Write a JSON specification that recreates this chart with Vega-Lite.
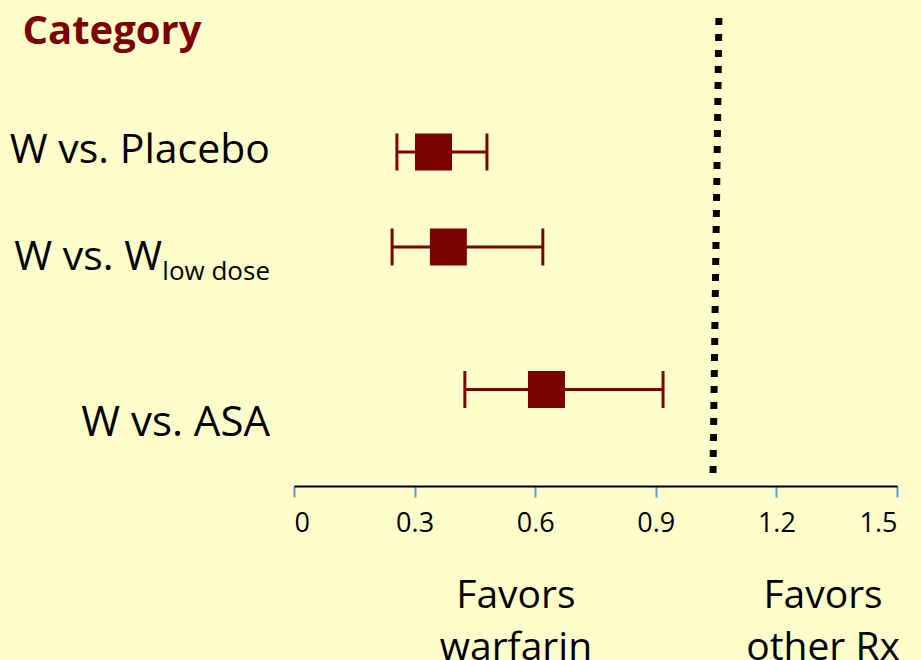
{
  "$schema": "https://vega.github.io/schema/vega-lite/v6.json",
  "width": 603,
  "height": 486,
  "autosize": "none",
  "padding": {"left": 294, "top": 0, "right": 24, "bottom": 174},
  "background": "#FFFFCC",
  "config": {"view": {"stroke": null}, "font": "Open Sans"},
  "datasets": {
    "trials": [
      {"comparison": "W vs. Placebo", "label": "W vs. Placebo", "sub": "", "row": 1, "hr": 0.347, "lo": 0.256, "hi": 0.48},
      {"comparison": "W vs. W low dose", "label": "W vs. W", "sub": "low dose", "row": 2, "hr": 0.384, "lo": 0.244, "hi": 0.619},
      {"comparison": "W vs. ASA", "label": "W vs. ASA", "sub": "", "row": 3.5, "hr": 0.628, "lo": 0.425, "hi": 0.918}
    ],
    "notes": [
      {"note": "Favors\nwarfarin", "pos": 0.552},
      {"note": "Favors\nother Rx", "pos": 1.316}
    ]
  },
  "layer": [
    {
      "data": {"name": "trials"},
      "mark": {"type": "rule", "color": "#7B0000", "strokeWidth": 3},
      "encoding": {
        "x": {
          "field": "lo", "type": "quantitative",
          "scale": {"domain": [0, 1.5], "nice": false, "zero": false},
          "axis": {
            "values": [0, 0.3, 0.6, 0.9, 1.2, 1.5], "format": "~g", "title": null, "grid": false,
            "domainColor": "#000000", "domainWidth": 2,
            "tickColor": "#5B9BD5", "tickWidth": 2, "tickSize": 11,
            "labelFont": "Open Sans", "labelFontSize": 27, "labelColor": "#000000", "labelPadding": 13
          }
        },
        "x2": {"field": "hi"},
        "y": {
          "field": "row", "type": "quantitative",
          "scale": {"domain": [-0.6, 4.516], "reverse": true, "nice": false, "zero": false},
          "axis": {
            "title": "Category", "domain": false, "ticks": false, "labels": false, "grid": false,
            "titleAngle": 0, "titleAlign": "left", "titleBaseline": "alphabetic",
            "titleX": -272, "titleY": 43,
            "titleFont": "Open Sans", "titleFontSize": 40, "titleFontWeight": "bold", "titleColor": "#7B0000"
          }
        }
      }
    },
    {
      "data": {"name": "trials"},
      "mark": {"type": "tick", "orient": "vertical", "color": "#7B0000", "size": 37, "thickness": 3, "opacity": 1},
      "encoding": {
        "x": {"field": "lo", "type": "quantitative"},
        "y": {"field": "row", "type": "quantitative"}
      }
    },
    {
      "data": {"name": "trials"},
      "mark": {"type": "tick", "orient": "vertical", "color": "#7B0000", "size": 37, "thickness": 3, "opacity": 1},
      "encoding": {
        "x": {"field": "hi", "type": "quantitative"},
        "y": {"field": "row", "type": "quantitative"}
      }
    },
    {
      "data": {"name": "trials"},
      "mark": {"type": "square", "color": "#7B0000", "size": 1369, "filled": true, "opacity": 1, "strokeWidth": 0},
      "encoding": {
        "x": {"field": "hr", "type": "quantitative"},
        "y": {"field": "row", "type": "quantitative"}
      }
    },
    {
      "data": {"values": [{}]},
      "mark": {"type": "rule", "color": "#000000", "strokeWidth": 7, "strokeDash": [7, 9], "strokeCap": "butt"},
      "encoding": {
        "x": {"datum": 1.057},
        "x2": {"datum": 1.042},
        "y": {"datum": -0.41},
        "y2": {"datum": 4.47}
      }
    },
    {
      "data": {"name": "trials"},
      "transform": [{"filter": "datum.row == 1"}],
      "mark": {"type": "text", "align": "right", "baseline": "alphabetic", "dx": -24, "dy": 11, "fontSize": 41, "color": "#000000"},
      "encoding": {
        "x": {"datum": 0},
        "y": {"field": "row", "type": "quantitative"},
        "text": {"field": "label"}
      }
    },
    {
      "data": {"name": "trials"},
      "transform": [{"filter": "datum.row == 2"}],
      "mark": {"type": "text", "align": "right", "baseline": "alphabetic", "dx": -132, "dy": 23, "fontSize": 41, "color": "#000000"},
      "encoding": {
        "x": {"datum": 0},
        "y": {"field": "row", "type": "quantitative"},
        "text": {"field": "label"}
      }
    },
    {
      "data": {"name": "trials"},
      "transform": [{"filter": "datum.row == 2"}],
      "mark": {"type": "text", "align": "right", "baseline": "alphabetic", "dx": -24, "dy": 33, "fontSize": 26, "color": "#000000"},
      "encoding": {
        "x": {"datum": 0},
        "y": {"field": "row", "type": "quantitative"},
        "text": {"field": "sub"}
      }
    },
    {
      "data": {"name": "trials"},
      "transform": [{"filter": "datum.row == 3.5"}],
      "mark": {"type": "text", "align": "right", "baseline": "alphabetic", "dx": -24, "dy": 47, "fontSize": 42, "color": "#000000"},
      "encoding": {
        "x": {"datum": 0},
        "y": {"field": "row", "type": "quantitative"},
        "text": {"field": "label"}
      }
    },
    {
      "data": {"name": "notes"},
      "mark": {"type": "text", "align": "center", "baseline": "alphabetic", "fontSize": 39, "lineHeight": 52, "lineBreak": "\n", "color": "#000000"},
      "encoding": {
        "x": {"field": "pos", "type": "quantitative"},
        "y": {"datum": 5.8},
        "text": {"field": "note"}
      }
    }
  ]
}
